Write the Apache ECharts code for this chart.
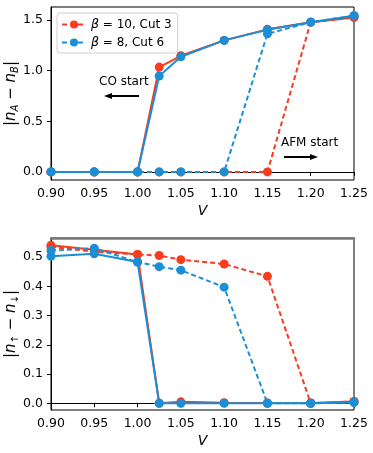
<!DOCTYPE html>
<html>
<head>
<meta charset="utf-8">
<script src="https://cdn.jsdelivr.net/npm/echarts@6/dist/echarts.min.js"></script>
<style>
  html, body { margin: 0; padding: 0; background: #fff; }
  #chart { width: 373px; height: 453px; }
</style>
</head>
<body>
<div id="chart"></div>
<script>
    // V values shared by both panels
    var vVals = [0.90, 0.95, 1.00, 1.025, 1.05, 1.10, 1.15, 1.20, 1.25];

    // top panel |nA - nB|
    var coRedTop  = [0, 0, 0, 1.036, 1.148, 1.30, 1.409, 1.48, 1.527];
    var afmRedTop = [0, 0, 0, 0, 0, 0, 0, 1.48, 1.527];
    var coBlueTop  = [0, 0, 0, 0.948, 1.138, 1.30, 1.405, 1.48, 1.543];
    var afmBlueTop = [0, 0, 0, 0, 0, 0, 1.365, 1.48, 1.543];

    // bottom panel |n_up - n_down|
    var coRedBot  = [0.540, 0.525, 0.509, 0.0, 0.005, 0.002, 0.001, 0.001, 0.006];
    var afmRedBot = [0.535, 0.518, 0.509, 0.505, 0.491, 0.476, 0.434, 0.0, 0.006];
    var coBlueBot  = [0.503, 0.511, 0.483, 0.0, 0.0, 0.0, 0.0, 0.0, 0.003];
    var afmBlueBot = [0.522, 0.530, 0.483, 0.467, 0.455, 0.397, 0.0, 0.0, 0.003];

    var xTicks = [0.90, 0.95, 1.00, 1.05, 1.10, 1.15, 1.20, 1.25];
    var yTicksTop = [0, 0.5, 1.0, 1.5];
    var yTicksBot = [0, 0.1, 0.2, 0.3, 0.4, 0.5];

    var RED = '#fa3b1d';
    var BLUE = '#1a8fd5';
    var FONT = 'DejaVu Sans';

    function pairs(ys) {
        return vVals.map(function (v, i) { return [v, ys[i]]; });
    }

    function mkSeries(name, ys, color, dashed, idx) {
        return {
            name: name,
            type: 'line',
            xAxisIndex: idx,
            yAxisIndex: idx,
            data: pairs(ys),
            symbol: 'circle',
            symbolSize: 9,
            color: color,
            itemStyle: {color: color},
            lineStyle: {color: color, width: 2, type: dashed ? [5, 3] : 'solid'},
            animation: false,
            clip: false
        };
    }

    function xAxis(idx) {
        return {
            type: 'value', gridIndex: idx,
            min: 0.9, max: 1.25,
            name: 'V', nameLocation: 'middle', nameGap: 24, nameMoveOverlap: false,
            nameTextStyle: {fontFamily: FONT, fontSize: 14, fontStyle: 'italic', color: '#000'},
            axisLine: {show: true, lineStyle: {color: '#000', width: 1}},
            axisTick: {show: true, length: 4, inside: false, customValues: xTicks, lineStyle: {color: '#000'}},
            axisLabel: {customValues: xTicks, fontFamily: FONT, fontSize: 12.5, color: '#000', margin: 7,
                formatter: function (v) { return v.toFixed(2); }},
            splitLine: {show: false}
        };
    }

    function yAxis(idx, min, max, ticks, nameStr) {
        return {
            type: 'value', gridIndex: idx,
            min: min, max: max,
            name: nameStr, nameLocation: 'middle', nameRotate: 90, nameGap: 31, nameMoveOverlap: false,
            nameTextStyle: {
                fontFamily: FONT, fontSize: 14, color: '#000',
                rich: {
                    i: {fontFamily: FONT, fontSize: 15, fontStyle: 'italic', color: '#000'},
                    s: {fontFamily: FONT, fontSize: 10, fontStyle: 'italic', color: '#000', padding: [7, 0, 0, 0]},
                    t: {fontFamily: FONT, fontSize: 15, color: '#000'}
                }
            },
            axisLine: {show: true, lineStyle: {color: '#000', width: 1}},
            axisTick: {show: true, length: 4, customValues: ticks, lineStyle: {color: '#000'}},
            axisLabel: {customValues: ticks, fontFamily: FONT, fontSize: 12.5, color: '#000', margin: 8,
                formatter: function (v) { return v.toFixed(1); }},
            splitLine: {show: false}
        };
    }

    var chart = echarts.init(document.getElementById('chart'));

    var option = {
        backgroundColor: '#fff',
        animation: false,
        grid: [
            {left: 51, right: 19, top: 7, height: 173, show: true, borderColor: '#000', borderWidth: 1,
                containLabel: false, outerBoundsMode: 'none'},
            {left: 51, right: 19, top: 238, height: 172, show: true, borderColor: '#000', borderWidth: 1,
                containLabel: false, outerBoundsMode: 'none'}
        ],
        legend: {
            data: ['β=10, Cut 3', 'β=8, Cut 6'],
            left: 57, top: 13,
            orient: 'vertical',
            itemWidth: 24, itemHeight: 10, itemGap: 5,
            padding: [5, 6, 4, 4],
            borderColor: '#d0d0d0', borderWidth: 1, borderRadius: 3,
            backgroundColor: 'rgba(255,255,255,0.85)',
            textStyle: {
                fontFamily: FONT, fontSize: 12, color: '#000',
                rich: {
                    b: {fontFamily: FONT, fontSize: 12.5, fontStyle: 'italic', color: '#000'},
                    t: {fontFamily: FONT, fontSize: 12, color: '#000'}
                }
            },
            formatter: function (name) {
                var parts = name.split('=');
                return '{b|β}{t| = ' + parts[1] + '}';
            }
        },
        xAxis: [xAxis(0), xAxis(1),
            {type: 'value', gridIndex: 1, position: 'top', min: 0.9, max: 1.25,
                axisLine: {show: true, onZero: false, lineStyle: {color: '#7a7a7a', width: 2.5}},
                axisTick: {show: false}, axisLabel: {show: false}, splitLine: {show: false}}
        ],
        yAxis: [
            yAxis(0, -0.08, 1.63, yTicksTop, '{t||}{i|n}{s|A}{t| − }{i|n}{s|B}{t||}'),
            yAxis(1, -0.023, 0.565, yTicksBot, '{t||}{i|n}{s|↑}{t| − }{i|n}{s|↓}{t||}')
        ],
        graphic: [
            {type: 'text', left: 99, top: 76, style: {text: 'CO start', fontFamily: FONT, fontSize: 12, fill: '#000'}},
            {type: 'line', shape: {x1: 139, y1: 96, x2: 111, y2: 96}, style: {stroke: '#000', lineWidth: 2}},
            {type: 'polygon', shape: {points: [[104, 96], [112, 93], [112, 99]]}, style: {fill: '#000'}},
            {type: 'text', left: 281, top: 137, style: {text: 'AFM start', fontFamily: FONT, fontSize: 12, fill: '#000'}},
            {type: 'line', shape: {x1: 284, y1: 157, x2: 311, y2: 157}, style: {stroke: '#000', lineWidth: 2}},
            {type: 'polygon', shape: {points: [[318, 157], [310, 154], [310, 160]]}, style: {fill: '#000'}}
        ],
        series: [
            mkSeries('β=10 CO top', coRedTop, RED, false, 0),
            mkSeries('β=10, Cut 3', afmRedTop, RED, true, 0),
            mkSeries('β=8 CO top', coBlueTop, BLUE, false, 0),
            mkSeries('β=8, Cut 6', afmBlueTop, BLUE, true, 0),
            mkSeries('β=10 CO bot', coRedBot, RED, false, 1),
            mkSeries('β=10 AFM bot', afmRedBot, RED, true, 1),
            mkSeries('β=8 CO bot', coBlueBot, BLUE, false, 1),
            mkSeries('β=8 AFM bot', afmBlueBot, BLUE, true, 1)
        ]
    };

    chart.setOption(option);
</script>
</body>
</html>
